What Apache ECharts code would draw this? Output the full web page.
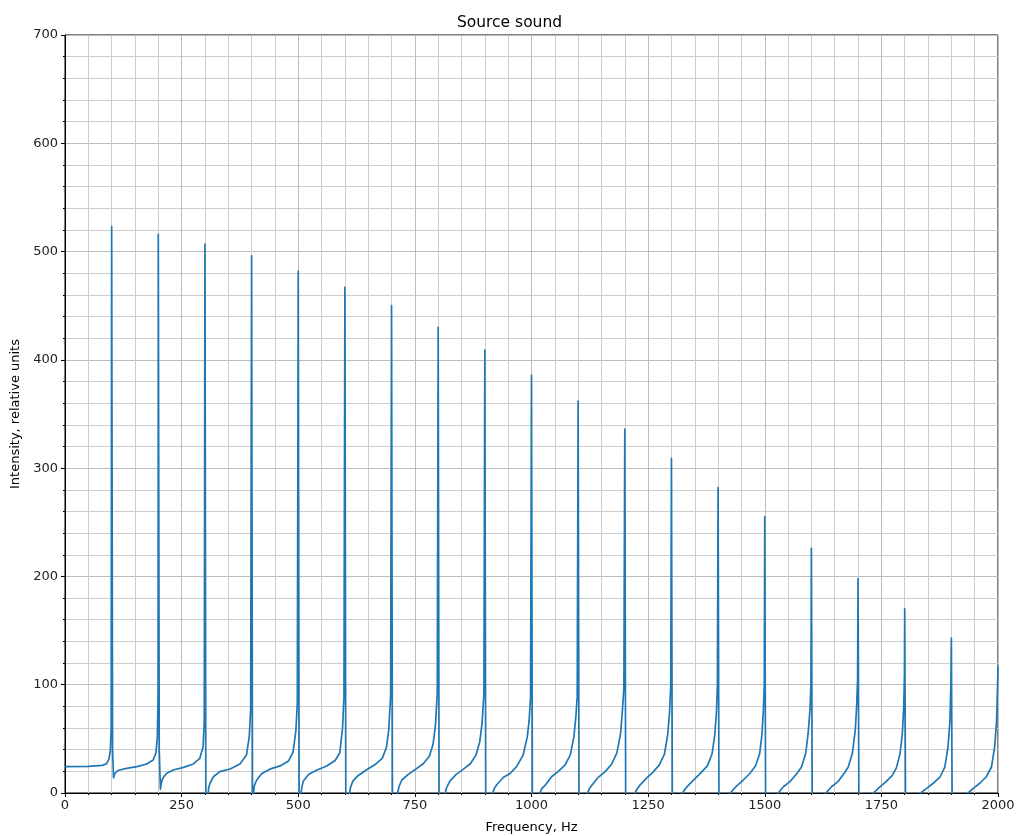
<!DOCTYPE html>
<html>
<head>
<meta charset="utf-8">
<script src="https://cdn.jsdelivr.net/npm/echarts@6/dist/echarts.min.js"></script>
<style>
html,body{margin:0;padding:0;background:#fff;}
#chart{width:1019px;height:836px;}
</style>
</head>
<body>
<div id="chart"></div>
<script>
// Values (frequency in Hz, intensity in relative units)
const xTicks = [0, 250, 500, 750, 1000, 1250, 1500, 1750, 2000];
const yTicks = [0, 100, 200, 300, 400, 500, 600, 700];

const freqHz = [
  0, 50, 80, 89, 94, 97, 99,
  100, 102, 104, 106, 110, 115, 132, 154, 175, 189, 195, 198, 199.5,
  200, 202, 204.5, 206, 208, 211, 218, 232, 254, 275, 289, 296, 298.5,
  300, 302, 307, 308, 311, 318, 332, 354, 375, 389, 395, 398,
  400, 402, 404, 406, 411, 422, 439, 461, 479, 489, 495, 498,
  500, 502, 506, 508, 511, 522, 539, 561, 579, 589, 595, 598,
  600, 602, 610, 612, 617, 628, 645, 664, 680, 689, 694, 698,
  700, 702, 713, 716, 722, 735, 752, 768, 781, 789, 794, 798,
  800, 802, 815, 818, 825, 838, 854, 869, 881, 889, 894, 898,
  900, 902, 917, 920, 925, 940, 954, 968, 982, 991, 995, 998,
  1000, 1002, 1018, 1022, 1029, 1043, 1057, 1072, 1083, 1091, 1095, 1098,
  1100, 1102, 1120, 1124, 1129, 1143, 1158, 1172, 1183, 1191, 1195, 1198,
  1200, 1202, 1222, 1226, 1232, 1246, 1260, 1274, 1285, 1292, 1296, 1298.5,
  1300, 1302, 1324, 1329, 1336, 1350, 1364, 1377, 1387, 1393, 1396.5, 1398.5,
  1400, 1402, 1427, 1432, 1440, 1454, 1468, 1480, 1489, 1494, 1497, 1499,
  1500, 1502, 1529, 1540, 1554, 1569, 1579, 1588, 1593, 1597, 1599,
  1600, 1602, 1631, 1643, 1657, 1670, 1679, 1688, 1694, 1697, 1699,
  1700, 1702, 1733, 1745, 1759, 1773, 1782, 1790, 1795, 1798, 1799.5,
  1800, 1802, 1834, 1847, 1861, 1876, 1886, 1893, 1897, 1899,
  1900, 1902, 1936, 1947, 1961, 1975, 1986, 1993, 1997, 1999,
  2000
];
const intensity = [
  24.3, 24.5, 25.5, 27, 31, 38, 60,
  523, 40, 14, 17, 19.5, 21, 22.8, 24.3, 26.8, 30.5, 37, 52, 90,
  516, 40, 3.4, 8, 12, 14.5, 18.2, 21.2, 23.7, 26.8, 32, 42.8, 65,
  507, -30, 0, 5, 9, 15, 19.7, 22.2, 26.8, 35, 52, 77,
  496, -30, 0, 7, 12, 18, 22, 25, 29.5, 38, 58, 83,
  482, -30, 0, 6, 11, 17, 21, 25, 30, 37, 60, 89,
  467, -30, 0, 5, 11, 16, 21, 26, 32, 42, 58, 90,
  450, -30, 0, 6, 12, 17, 22, 27, 34, 45, 62, 92,
  430, -30, 0, 5, 11, 17, 22, 27, 35, 47, 64, 92,
  409, -30, 0, 4, 7.4, 14.5, 18, 24.3, 35, 52, 67, 89,
  386, -30, 0, 4, 7, 15, 19.7, 26, 35, 52, 70, 89,
  362, -30, 0, 4, 7, 14.5, 19.7, 26.8, 37, 55, 77, 97,
  336, -30, 0, 3.5, 7, 13.5, 19, 26, 36, 54, 75, 100,
  309, -30, 0, 3.5, 7, 13, 19, 25, 36, 54, 75, 100,
  282, -30, 0, 3, 6.5, 12, 18, 25, 36, 54, 76, 100,
  255, -30, 0, 5.8, 10.5, 18, 24.3, 37, 55, 77, 100,
  226, -30, 0, 5.8, 10.5, 18, 24, 37, 58, 80, 105,
  198, -30, 0, 5, 10, 16, 23, 36, 55, 80, 110,
  170, -30, 0, 4.3, 9, 15, 24, 43, 67, 100,
  143, -30, 0, 4.3, 9, 15, 24, 43, 67, 98,
  117
];

const points = freqHz.map((f, i) => [f, intensity[i]]);

const chart = echarts.init(document.getElementById('chart'), null, {renderer: 'canvas'});
const font = 'DejaVu Sans';
chart.setOption({
  animation: false,
  backgroundColor: '#ffffff',
  title: {
    text: 'Source sound',
    left: 'center',
    top: 10,
    textStyle: {fontFamily: font, fontSize: 15.5, fontWeight: 'normal', color: '#000'}
  },
  grid: {
    left: 65, right: 21, top: 35, bottom: 43,
    outerBoundsMode: 'none',
    containLabel: false,
    show: true, borderColor: '#000', borderWidth: 1, backgroundColor: 'transparent'
  },
  xAxis: {
    type: 'value',
    min: xTicks[0], max: xTicks[xTicks.length - 1], interval: 250,
    name: 'Frequency, Hz',
    nameLocation: 'middle',
    nameGap: 28,
    nameTextStyle: {fontFamily: font, fontSize: 13, color: '#000'},
    axisLine: {show: true, lineStyle: {color: '#000', width: 1}},
    axisTick: {show: true, inside: false, length: 4, lineStyle: {color: '#000'}},
    minorTick: {show: true, splitNumber: 5, length: 2, lineStyle: {color: '#000'}},
    axisLabel: {fontFamily: font, fontSize: 13, color: '#222', margin: 6,
      formatter: v => xTicks.includes(v) ? String(v) : ''},
    splitLine: {show: true, lineStyle: {color: '#bcbcbc', width: 1}},
    minorSplitLine: {show: true, lineStyle: {color: '#cdcdcd', width: 1}}
  },
  yAxis: {
    type: 'value',
    min: yTicks[0], max: yTicks[yTicks.length - 1], interval: 100,
    name: 'Intensity, relative units',
    nameLocation: 'middle',
    nameGap: 41,
    nameRotate: 90,
    nameTextStyle: {fontFamily: font, fontSize: 13, color: '#000'},
    axisLine: {show: true, lineStyle: {color: '#000', width: 1}},
    axisTick: {show: true, inside: false, length: 4, lineStyle: {color: '#000'}},
    minorTick: {show: true, splitNumber: 5, length: 2, lineStyle: {color: '#000'}},
    axisLabel: {fontFamily: font, fontSize: 13, color: '#222', margin: 7,
      formatter: v => yTicks.includes(v) ? String(v) : ''},
    splitLine: {show: true, lineStyle: {color: '#bcbcbc', width: 1}},
    minorSplitLine: {show: true, lineStyle: {color: '#cdcdcd', width: 1}}
  },
  series: [{
    type: 'line',
    data: points,
    showSymbol: false,
    symbol: 'none',
    clip: true,
    lineStyle: {color: '#1f77b4', width: 1.7, join: 'round'},
    z: 5
  }]
});
</script>
</body>
</html>
